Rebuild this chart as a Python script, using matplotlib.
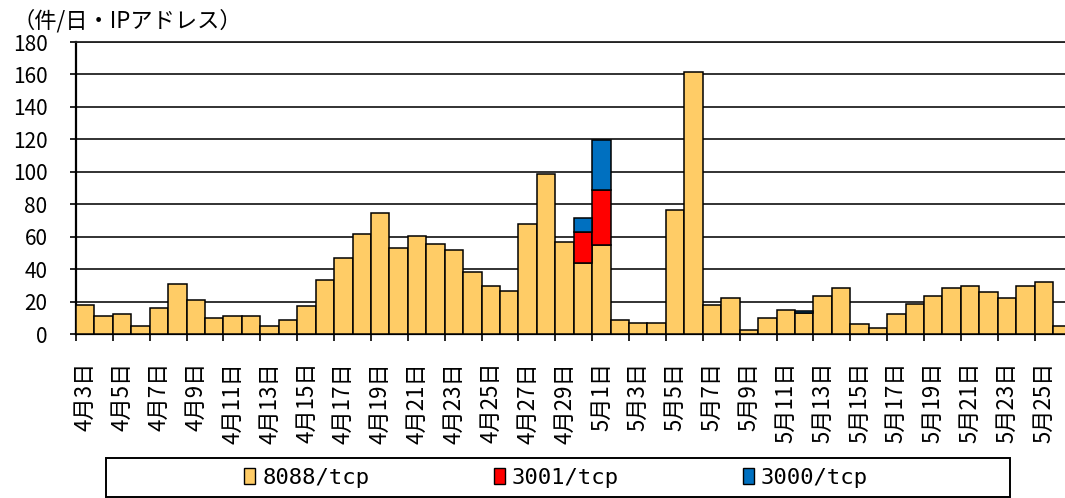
import matplotlib
matplotlib.use('Agg')
import matplotlib.pyplot as plt
from matplotlib.patches import Patch, Rectangle
import numpy as np

plt.rcParams['font.family'] = ['Noto Sans CJK JP', 'DejaVu Sans']

# 4/3 .. 5/26
days = [f'4月{d}日' for d in range(3, 31)] + [f'5月{d}日' for d in range(1, 27)]

port_8088 = [18.1, 11.1, 12.1, 4.9, 16.0, 30.7, 21.0, 9.7, 11.1, 11.1,
             4.9, 8.4, 17.3, 33.3, 46.7, 61.5, 74.3, 52.9, 60.5, 55.7,
             51.8, 38.2, 29.6, 26.7, 68.1, 98.7, 56.8, 44.0, 54.9, 8.4,
             7.0, 7.0, 76.3, 161.7, 18.1, 22.2, 2.3, 10.1, 14.6, 13.2,
             23.5, 28.4, 6.2, 3.5, 12.3, 18.3, 23.5, 28.4, 29.6, 25.7,
             22.2, 29.6, 31.9, 5.1]
port_3001 = [0, 0, 0, 0, 0, 0, 0, 0, 0, 0,
             0, 0, 0, 0, 0, 0, 0, 0, 0, 0,
             0, 0, 0, 0, 0, 0, 0, 18.7, 33.6, 0,
             0, 0, 0, 0, 0, 0, 0, 0, 0, 0,
             0, 0, 0, 0, 0, 0, 0, 0, 0, 0,
             0, 0, 0, 0]
port_3000 = [0, 0, 0, 0, 0, 0, 0, 0, 0, 0,
             0, 0, 0, 0, 0, 0, 0, 0, 0, 0,
             0, 0, 0, 0, 0, 0, 0, 8.7, 31.0, 0,
             0, 0, 0, 0, 0, 0, 0, 0, 0, 1.0,
             0, 0, 0, 0, 0, 0, 0, 0, 0, 0,
             0, 0, 0, 0]

series = [('8088/tcp', port_8088, '#FFCC66'),
          ('3001/tcp', port_3001, '#FF0000'),
          ('3000/tcp', port_3000, '#0070C0')]

W, H = 1065, 498
fig = plt.figure(figsize=(W / 100, H / 100), dpi=100)
fig.patch.set_facecolor('white')
ax = fig.add_axes([76 / W, (H - 334) / H, (W - 76) / W, (334 - 42) / H])

x = np.arange(len(days))
bottom = np.zeros(len(days))
for name, vals, color in series:
    vals = np.array(vals, dtype=float)
    mask = vals > 0
    ax.bar(x[mask], vals[mask], width=1.0, bottom=bottom[mask], color=color,
           edgecolor='black', linewidth=1.1, zorder=3)
    bottom += vals

ax.set_xlim(-0.5, 53.15)
ax.set_ylim(0, 180)
ax.set_yticks(np.arange(0, 181, 20))
ax.grid(axis='y', color='#222222', linewidth=1.3, zorder=0)
ax.tick_params(axis='y', direction='out', length=4.5, width=1.2, pad=16,
               labelsize=15)

# tick marks between every second day, labels on the day itself
ax.set_xticks(np.arange(-0.5, 53, 2))
ax.set_xticklabels([])
ax.tick_params(axis='x', which='major', direction='out', length=5, width=1.2)
ax.set_xticks(x[::2], minor=True)
ax.set_xticklabels(days[::2], minor=True, rotation=90, va='top', ha='center',
                   fontsize=16)
ax.tick_params(axis='x', which='minor', length=0, pad=20)

for side in ['left', 'bottom']:
    ax.spines[side].set_linewidth(1.6)
ax.spines['top'].set_linewidth(1.3)
ax.spines['top'].set_color('#222222')
ax.spines['right'].set_visible(False)

fig.text(12 / W, 1 - 21 / H, '（件/日・IPアドレス）', fontsize=16,
         va='center', ha='left')

# legend box
fig.patches.append(Rectangle((106 / W, 1 / H), (1010 - 106) / W, 39 / H,
                             transform=fig.transFigure, fill=False,
                             edgecolor='black', linewidth=1.4))
handles = [Patch(facecolor=c, edgecolor='black', linewidth=1.0) for _, _, c in series]
fig.legend(handles, [s[0] for s in series], loc='center',
           bbox_to_anchor=(556 / W, 20 / H), ncol=3, frameon=False,
           prop={'family': 'DejaVu Sans Mono', 'size': 16},
           handlelength=0.5, handleheight=0.7, handletextpad=0.3,
           columnspacing=5.6)

fig.savefig('out.png', dpi=100, facecolor='white')
